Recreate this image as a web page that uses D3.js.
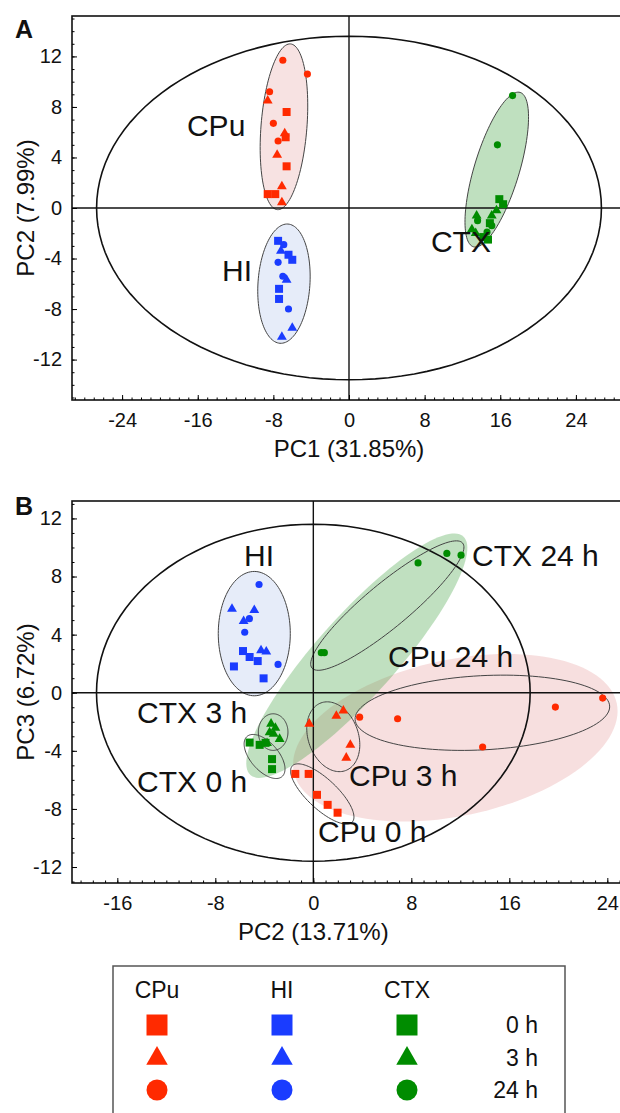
<!DOCTYPE html>
<html>
<head>
<meta charset="utf-8">
<script src="https://cdn.jsdelivr.net/npm/d3@7"></script>
<style>
  body { margin: 0; background: #fff; }
  svg { display: block; font-family: "Liberation Sans", Arial, sans-serif; }
</style>
</head>
<body>
<div id="chart"></div>
<script>
// groups and time points
const tissues = ["CPu", "HI", "CTX"];
const times = ["0 h", "3 h", "24 h"];
const tissueColors = ["#ff2a00", "#1a3cff", "#008c00"];

// panel A scores: [time, PC1, PC2]
const pc12CPu = [
  ["0 h", -6.6, 7.6], ["0 h", -6.7, 5.6], ["0 h", -6.6, 3.3], ["0 h", -8.6, 1.1], ["0 h", -7.8, 1.1],
  ["3 h", -8.6, 8.5], ["3 h", -6.8, 5.9], ["3 h", -7.6, 4.2], ["3 h", -7.1, 1.7], ["3 h", -7.1, 0.45],
  ["24 h", -7.0, 11.7], ["24 h", -4.4, 10.6], ["24 h", -8.4, 9.2], ["24 h", -8.0, 6.7], ["24 h", -7.5, 5.3]
];
const pc12HI = [
  ["0 h", -7.5, -2.6], ["0 h", -6.4, -3.7], ["0 h", -6.0, -4.1], ["0 h", -7.4, -6.4], ["0 h", -7.4, -7.2],
  ["3 h", -7.2, -3.4], ["3 h", -6.6, -5.7], ["3 h", -6.0, -9.5], ["3 h", -7.1, -10.2],
  ["24 h", -6.9, -2.9], ["24 h", -7.5, -4.3], ["24 h", -7.0, -5.4], ["24 h", -6.4, -8.0]
];
const pc12CTX = [
  ["0 h", 15.9, 0.7], ["0 h", 16.3, 0.3], ["0 h", 14.9, -1.2], ["0 h", 14.2, -2.3], ["0 h", 14.7, -2.5],
  ["3 h", 15.6, -0.2], ["3 h", 13.5, -0.6], ["3 h", 15.1, -0.6], ["3 h", 13.0, -1.7], ["3 h", 13.4, -2.0],
  ["24 h", 17.3, 8.9], ["24 h", 15.7, 5.0], ["24 h", 13.6, -1.0], ["24 h", 15.1, -1.4], ["24 h", 14.6, -1.9]
];

// panel B scores: [time, PC2, PC3]
const pc23CPu = [
  ["0 h", -1.47, -5.59], ["0 h", -0.38, -5.59], ["0 h", 0.3, -7.03], ["0 h", 1.17, -7.72], ["0 h", 1.98, -8.26],
  ["3 h", -0.33, -2.14], ["3 h", 1.88, -1.59], ["3 h", 2.45, -1.24], ["3 h", 3.02, -3.59], ["3 h", 2.69, -4.48],
  ["24 h", 3.78, -1.68], ["24 h", 6.88, -1.79], ["24 h", 13.82, -3.74], ["24 h", 19.76, -0.99], ["24 h", 23.62, -0.37]
];
const pc23HI = [
  ["0 h", -5.74, 2.87], ["0 h", -5.2, 2.46], ["0 h", -4.54, 2.18], ["0 h", -6.48, 1.81], ["0 h", -4.06, 0.99],
  ["3 h", -6.64, 5.77], ["3 h", -4.82, 5.68], ["3 h", -5.69, 4.92], ["3 h", -4.27, 2.92], ["3 h", -3.84, 2.83],
  ["24 h", -4.43, 7.45], ["24 h", -5.22, 5.1], ["24 h", -5.6, 4.16], ["24 h", -2.88, 1.95]
];
const pc23CTX = [
  ["0 h", -5.2, -3.43], ["0 h", -4.38, -3.59], ["0 h", -3.9, -3.45], ["0 h", -3.37, -4.57], ["0 h", -3.37, -5.26],
  ["3 h", -3.45, -2.14], ["3 h", -3.1, -2.43], ["3 h", -3.57, -2.74], ["3 h", -2.75, -3.19], ["3 h", -3.24, -2.83], ["3 h", -3.78, -3.47],
  ["24 h", 8.55, 8.94], ["24 h", 10.9, 9.59], ["24 h", 12.06, 9.47], ["24 h", 0.65, 2.76], ["24 h", 0.9, 2.76]
];

// ellipses: [name, cx, cy, ux, uy, vx, vy]  (centre + two conjugate semi-axes, data units)
const pc12Ellipses = [
  ["T2", 0, 0, 26.7, 0, 0, 13.6],
  ["CPu", -6.88, 6.43, 0.69, 6.56, 2.42, -0.14],
  ["HI", -6.88, -5.99, 0.42, 4.72, 2.74, -0.14],
  ["CTX", 15.63, 3.04, 2.47, 6.11, 2.28, -0.52]
];
const pc23Shades = [
  ["CPu", 11.59, -3.10, 13.18, 2.37, 1.32, -5.26],
  ["CTX", 3.55, 2.55, 8.69, 8.21, 2.43, -1.84]
];
const pc23Ellipses = [
  ["T2", 0, 0, 17.7, 0, 0, 11.6],
  ["HI", -4.82, 4.07, 2.94, 0, 0, 4.28],
  ["CTX 3 h", -3.28, -2.71, 1.21, 0, 0, 1.26],
  ["CTX 0 h", -3.98, -4.39, 1.43, -1.38, -0.86, -0.63],
  ["CTX 24 h", 6.04, 6.0, 6.15, 4.30, 1.14, -1.17],
  ["CPu 0 h", 0.73, -6.97, 2.45, -1.93, -0.83, -0.76],
  ["CPu 3 h", 1.63, -3.03, 1.0, -2.33, -1.92, -0.59],
  ["CPu 24 h", 13.8, -1.38, 10.39, 0.46, 0.16, -2.55]
];

// group labels: [text, x, y] (start of text, baseline, data units)
const pc12Labels = [["CPu", -17.14, 5.7], ["HI", -13.43, -5.78], ["CTX", 8.67, -3.48]];
const pc23Labels = [
  ["HI", -5.66, 8.7], ["CTX 24 h", 12.96, 8.73], ["CPu 24 h", 6.1, 1.78],
  ["CTX 3 h", -14.39, -2.08], ["CTX 0 h", -14.39, -6.83],
  ["CPu 3 h", 2.91, -6.42], ["CPu 0 h", 0.38, -10.27]
];

const ticksA_x = [-24, -16, -8, 0, 8, 16, 24];
const ticksB_x = [-16, -8, 0, 8, 16, 24];
const ticksY = [-12, -8, -4, 0, 4, 8, 12];

const width = 620, height = 1113;
const svg = d3.select("#chart").append("svg")
  .attr("width", width).attr("height", height);

const shapes = [d3.symbolSquare, d3.symbolTriangle, d3.symbolCircle];
const shapeSize = [64, 42, 40];

const fillsA = {"T2": "none", "CPu": "#f7e2e2", "HI": "#e6ecf9", "CTX": "#bfe0bf"};

function ellipsePath(x, y, e) {
  const pts = d3.range(0, 121).map(i => {
    const t = i / 120 * 2 * Math.PI;
    return [x(e[1] + e[3] * Math.cos(t) + e[5] * Math.sin(t)),
            y(e[2] + e[4] * Math.cos(t) + e[6] * Math.sin(t))];
  });
  return d3.line()(pts) + "Z";
}

function drawPanel(opt) {
  const {x, y, xTicks, xTitle, yTitle, letter, groups} = opt;
  const g = svg.append("g");
  const [x0, x1] = x.range(), [y0, y1] = y.range();

  // shaded areas (panel B)
  (opt.shades || []).forEach(s => {
    g.append("path")
      .attr("d", ellipsePath(x, y, s))
      .attr("fill", s[0] === "CPu" ? "rgb(230,150,150)" : "rgb(60,160,60)")
      .attr("fill-opacity", s[0] === "CPu" ? 0.3 : 0.32);
  });

  // ellipses
  opt.ellipses.forEach(e => {
    const big = e[0] === "T2";
    g.append("path")
      .attr("d", ellipsePath(x, y, e))
      .attr("fill", opt.fills ? opt.fills[e[0]] : (e[0] === "HI" ? "#e6ecf9" : "none"))
      .attr("stroke", big ? "#111" : "#444")
      .attr("stroke-width", big ? 1.6 : 1);
  });

  // zero lines
  g.append("line").attr("x1", x(0)).attr("x2", x(0)).attr("y1", y1).attr("y2", y0)
    .attr("stroke", "#111").attr("stroke-width", 1.4);
  g.append("line").attr("x1", x0).attr("x2", x1).attr("y1", y(0)).attr("y2", y(0))
    .attr("stroke", "#111").attr("stroke-width", 1.4);

  // points
  groups.forEach((rows, gi) => {
    g.append("g").selectAll("path")
      .data(rows)
      .join("path")
        .attr("transform", d => `translate(${x(d[1])},${y(d[2])})`)
        .attr("d", d => d3.symbol(shapes[times.indexOf(d[0])], shapeSize[times.indexOf(d[0])])())
        .attr("fill", tissueColors[gi]);
  });

  // frame
  g.append("rect").attr("x", x0).attr("y", y1).attr("width", x1 - x0).attr("height", y0 - y1)
    .attr("fill", "none").attr("stroke", "#111").attr("stroke-width", 1.6);

  // axes (ticks inside), plain hyphen minus like the original
  const fmt = d => String(d);
  const xd = x.domain(), yd = y.domain();
  const minorX = d3.range(Math.ceil(xd[0]), Math.floor(xd[1]) + 1);
  const minorY = d3.range(Math.ceil(yd[0]), Math.floor(yd[1]) + 1);
  g.append("g").attr("transform", `translate(0,${y0})`)
    .call(d3.axisBottom(x).tickValues(minorX).tickSize(-2.5).tickFormat(""))
    .call(a => a.select(".domain").remove());
  g.append("g").attr("transform", `translate(${x0},0)`)
    .call(d3.axisLeft(y).tickValues(minorY).tickSize(-2.5).tickFormat(""))
    .call(a => a.select(".domain").remove());
  g.append("g").attr("transform", `translate(0,${y0})`)
    .call(d3.axisBottom(x).tickValues(xTicks).tickSize(-5).tickPadding(13).tickFormat(fmt))
    .call(a => a.select(".domain").remove())
    .call(a => a.selectAll("text").attr("font-size", 20).attr("fill", "#111").attr("font-family", "Liberation Sans, Arial"));
  g.append("g").attr("transform", `translate(${x0},0)`)
    .call(d3.axisLeft(y).tickValues(ticksY).tickSize(-5).tickPadding(10).tickFormat(fmt))
    .call(a => a.select(".domain").remove())
    .call(a => a.selectAll("text").attr("font-size", 20).attr("fill", "#111").attr("font-family", "Liberation Sans, Arial"));

  // group labels
  g.append("g").selectAll("text")
    .data(opt.labels)
    .join("text")
      .attr("x", d => x(d[1]))
      .attr("y", d => y(d[2]))
      .attr("font-size", 30)
      .attr("fill", "#111")
      .text(d => d[0]);

  // titles
  g.append("text").attr("x", x(0)).attr("y", y0 + 57)
    .attr("text-anchor", "middle").attr("font-size", 24).attr("fill", "#111").text(xTitle);
  g.append("text")
    .attr("transform", `translate(34,${(y0 + y1) / 2}) rotate(-90)`)
    .attr("text-anchor", "middle").attr("font-size", 24).attr("fill", "#111").text(yTitle);
  g.append("text").attr("x", 15).attr("y", y1 + opt.letterDy)
    .attr("font-size", 25).attr("font-weight", "bold").attr("fill", "#111").text(letter);
}

const xA = d3.scaleLinear().domain([-29.3, 29.3]).range([72, 626]);
const yA = d3.scaleLinear().domain([-15.2, 15.2]).range([400, 16]);
drawPanel({
  x: xA, y: yA, xTicks: ticksA_x, xTitle: "PC1 (31.85%)", yTitle: "PC2 (7.99%)",
  letter: "A", letterDy: 22, groups: [pc12CPu, pc12HI, pc12CTX],
  ellipses: pc12Ellipses, fills: fillsA, labels: pc12Labels
});

const xB = d3.scaleLinear().domain([-19.7, 25.5]).range([72, 625.7]);
const yB = d3.scaleLinear().domain([-13.1, 13.2]).range([883, 501]);
drawPanel({
  x: xB, y: yB, xTicks: ticksB_x, xTitle: "PC2 (13.71%)", yTitle: "PC3 (6.72%)",
  letter: "B", letterDy: 14, groups: [pc23CPu, pc23HI, pc23CTX],
  shades: pc23Shades, ellipses: pc23Ellipses, labels: pc23Labels
});

// legend
const legend = svg.append("g");
legend.append("rect").attr("x", 113).attr("y", 966).attr("width", 452).attr("height", 170)
  .attr("fill", "none").attr("stroke", "#555").attr("stroke-width", 1.5);
const colX = d3.scalePoint().domain(tissues).range([157, 407]);
const rowY = d3.scalePoint().domain(times).range([1025, 1090]);
const legendSize = [441, 200, 346];
legend.selectAll(".head").data(tissues).join("text")
  .attr("x", d => colX(d)).attr("y", 998).attr("text-anchor", "middle")
  .attr("font-size", 23).attr("fill", "#111").text(d => d);
tissues.forEach((t, ti) => {
  legend.append("g").selectAll("path").data(times).join("path")
    .attr("transform", (d, i) => `translate(${colX(t)},${rowY(d) + (i === 1 ? 1 : 0)})`)
    .attr("d", (d, i) => d3.symbol(shapes[i], legendSize[i])())
    .attr("fill", tissueColors[ti]);
});
legend.selectAll(".time").data(times).join("text")
  .attr("x", 538).attr("y", d => rowY(d) + 8).attr("text-anchor", "end")
  .attr("font-size", 23).attr("fill", "#111").text(d => d);
</script>
</body>
</html>
